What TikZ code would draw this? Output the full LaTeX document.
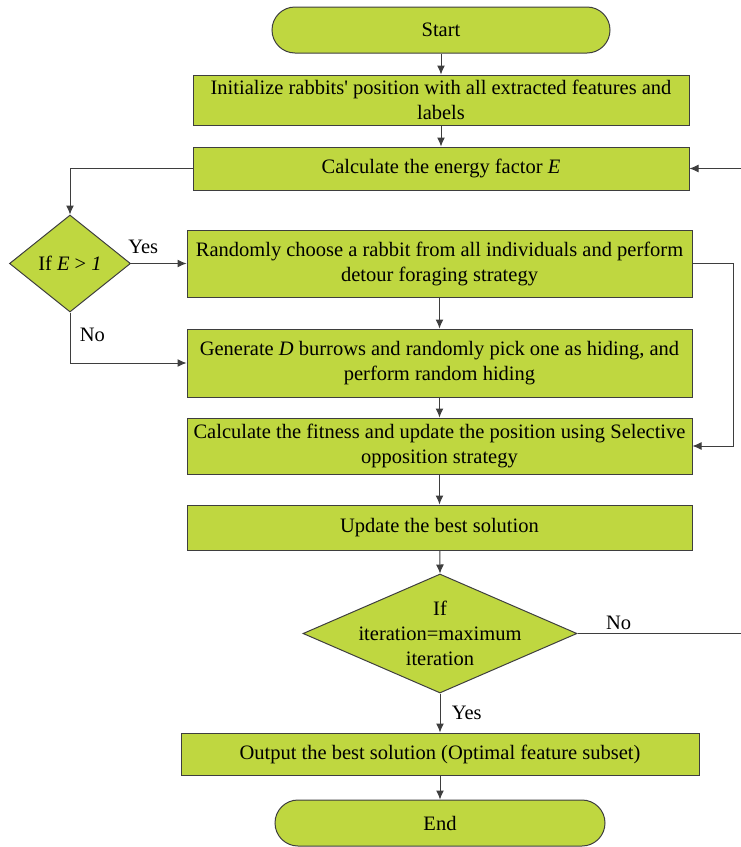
\documentclass[tikz,border=0pt]{standalone}
\usepackage{fontspec}
\setmainfont{Liberation Serif}
\usepackage{tikz}
\usetikzlibrary{shapes.geometric}
\usetikzlibrary{arrows.meta}
\usetikzlibrary{positioning}

\definecolor{leafgreen}{RGB}{191,215,64}
\definecolor{edgegray}{RGB}{62,62,62}

\tikzset{
  every node/.style={font=\fontsize{20.5}{25}\selectfont},
  procbox/.style={draw=edgegray, line width=1pt, fill=leafgreen, rectangle, align=center, inner sep=0pt},
  termbox/.style={procbox, rounded corners=23pt},
  choicebox/.style={draw=edgegray, line width=1pt, fill=leafgreen, diamond, inner sep=0pt},
  flow/.style={draw=edgegray, line width=1pt, -{Latex[length=9pt,width=8pt]}}
}

\begin{document}
\begin{tikzpicture}[x=1pt,y=-1pt]
              \useasboundingbox (0,0) rectangle (741,847);

              \node[termbox, minimum width=338, minimum height=46] (start) at (441,30) {Start};
              \node[procbox, minimum width=496, minimum height=50] (init) at (441,100)
                {Initialize rabbits\textquotesingle{} position with all extracted features and\\labels};
              \node[procbox, minimum width=496, minimum height=43] (energy) at (441,168.5)
                {Calculate the energy factor \textit{E}};
              \node[choicebox, minimum width=121, minimum height=97,
                    label={center:If \textit{E} > \textit{1}}] (ifE) at (70,263.5) {};
              \node[procbox, minimum width=505, minimum height=67] (random) at (439.5,263.5)
                {Randomly choose a rabbit from all individuals and perform\\detour foraging strategy};
              \node[procbox, minimum width=505, minimum height=68] (generate) at (439.5,363)
                {Generate \textit{D} burrows and randomly pick one as hiding, and\\perform random hiding};
              \node[procbox, minimum width=505, minimum height=56] (fitness) at (439.5,446)
                {Calculate the fitness and update the position using Selective\\opposition strategy};
              \node[procbox, minimum width=505, minimum height=45] (update) at (439.5,527.5)
                {Update the best solution};
              \node[choicebox, minimum width=274, minimum height=119,
                    label={[align=center]center:If\\iteration=maximum\\iteration}] (ifIter) at (440,633.5) {};
              \node[procbox, minimum width=518, minimum height=42] (output) at (440,754)
                {Output the best solution (Optimal feature subset)};
              \node[termbox, minimum width=330, minimum height=46] (end) at (440,823) {End};

              % main line
              \draw[flow] (start) -- (init);
              \draw[flow] (init) -- (energy);
              \draw[flow] (energy.west) -| (ifE.north);
              \draw[flow] (ifE.east) -- node[above, pos=0.22, yshift=6pt]{Yes} (random.west);
              \draw[flow] (ifE.south) -- node[right, pos=0.45, xshift=6pt]{No} (ifE.south |- generate.west) -- (generate.west);
              \draw[flow] (random) -- (generate);
              \draw[flow] (generate) -- (fitness);
              \draw[flow] (random.east) -- ++(41,0) |- (fitness.east);
              \draw[flow] (fitness) -- (update);
              \draw[flow] (update) -- (ifIter.north);

              % loop back
              \coordinate (back) at (742,633.5);
              \draw[flow] (ifIter.east) -- node[above, pos=0.25]{No} (back) |- (energy.east);
              \draw[flow] (ifIter.south) -- node[right, pos=0.5, xshift=8pt]{Yes} (output.north);
              \draw[flow] (output) -- (end);
            \end{tikzpicture}
\end{document}
